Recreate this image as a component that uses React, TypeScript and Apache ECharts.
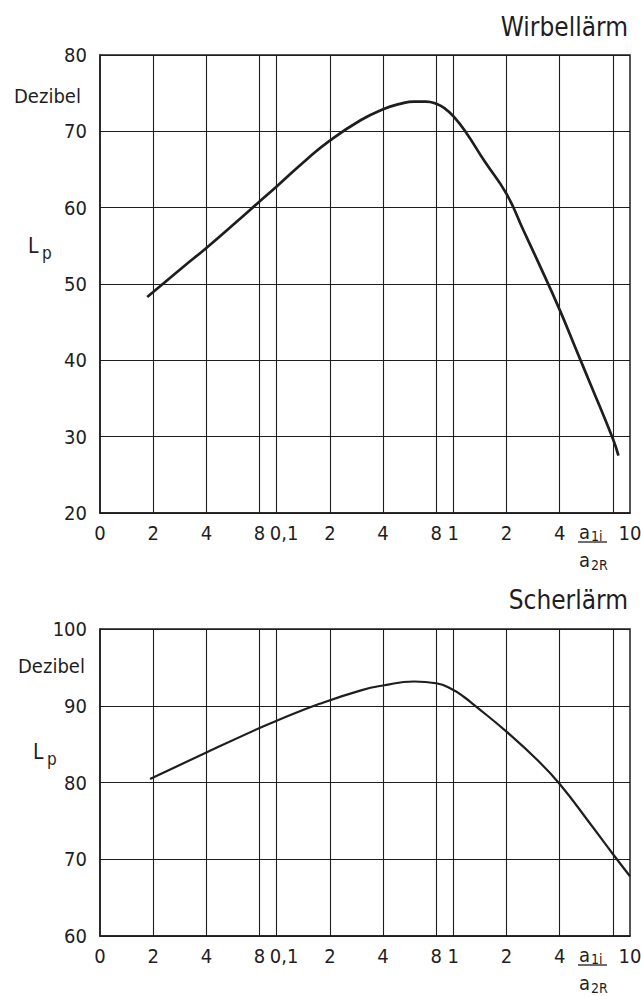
import React, { useEffect, useRef } from "react";
import * as echarts from "echarts";

// ---- data ----
const xGridValues = [0.02, 0.04, 0.08, 0.1, 0.2, 0.4, 0.8, 1, 2, 4, 8];
const xTickValues = [0.01, 0.02, 0.04, 0.08, 0.1, 0.2, 0.4, 0.8, 1, 2, 4, 10];
const xTickLabels = ["0", "2", "4", "8", "0,1", "2", "4", "8", "1", "2", "4", "10"];

const wirbelX = [0.0185, 0.02, 0.03, 0.04, 0.06, 0.08, 0.1, 0.15, 0.2, 0.3, 0.4, 0.5, 0.6, 0.7, 0.8, 0.9, 1, 1.17, 1.5, 2, 2.5, 3, 4, 5, 6, 8, 8.6];
const wirbelY = [48.3, 48.96, 52.36, 54.72, 58.25, 60.81, 62.78, 66.45, 68.79, 71.48, 72.9, 73.6, 73.9, 73.9, 73.6, 72.95, 72.0, 69.98, 66.1, 61.8, 56.97, 53.03, 46.61, 41.18, 36.78, 29.72, 27.52];

const scherX = [0.0192, 0.02, 0.04, 0.08, 0.1, 0.175, 0.3, 0.4, 0.6, 0.8, 1, 1.15, 1.32, 2, 3, 4, 6, 8, 10];
const scherY = [80.46, 80.65, 83.91, 87.1, 88.05, 90.25, 92.01, 92.64, 93.16, 92.93, 92.05, 91.14, 90.05, 86.62, 82.9, 79.8, 74.53, 70.68, 67.78];

const topYRange = [20, 80];
const bottomYRange = [60, 100];
const titles = ["Wirbellärm", "Scherlärm"];

const FONT = "'Liberation Sans Narrow', 'DejaVu Sans Condensed', 'Roboto Condensed', 'Noto Sans', sans-serif";
const INK = "#1e1e1e";

function labelFor(v: number): string {
  for (let i = 0; i < xTickValues.length; i++) {
    if (Math.abs(Math.log10(v) - Math.log10(xTickValues[i])) < 0.005) {
      const t = xTickLabels[i];
      return t === "0,1" ? "{s|0,1}" : t;
    }
  }
  return "";
}

function xAxisFor(gridIndex: number) {
  return {
    type: "log",
    logBase: 10,
    gridIndex,
    min: 0.01,
    max: 10,
    axisLine: { show: true, lineStyle: { color: INK, width: 1.5 } },
    axisTick: { show: false, customValues: xGridValues },
    splitLine: { show: true, lineStyle: { color: INK, width: 1.1 } },
    minorSplitLine: { show: false },
    axisLabel: {
      customValues: xTickValues,
      formatter: (v: number) => labelFor(v),
      color: INK,
      fontSize: 20,
      fontFamily: FONT,
      margin: 10,
      hideOverlap: false,
      rich: { s: { fontSize: 20, fontFamily: FONT, color: INK, padding: [0, 0, 0, 15] } },
    },
  };
}

function yAxisFor(gridIndex: number, range: number[]) {
  return {
    type: "value",
    gridIndex,
    min: range[0],
    max: range[1],
    interval: 10,
    axisLine: { show: true, lineStyle: { color: INK, width: 1.5 } },
    axisTick: { show: false },
    splitLine: { show: true, lineStyle: { color: INK, width: 1.1 } },
    axisLabel: { color: INK, fontSize: 20, fontFamily: FONT, margin: 13, padding: [6, 0, 0, 0] },
  };
}

function panelTexts(dy: number, titleY: number, title: string, dezY: number, lpY: number, lpX: number, dezX: number) {
  const t = (text: string, x: number, y: number, size: number, align = "left") => ({
    type: "text",
    x,
    y,
    style: { text, fontSize: size, fontFamily: FONT, fill: INK, align, verticalAlign: "middle" },
  });
  return [
    t(title, 628, titleY, 26, "right"),
    t("Dezibel", dezX, dezY, 20),
    t("L", lpX, lpY, 21),
    t("p", lpX + 14, lpY + 7, 17),
    t("a", 579, 532 + dy, 20),
    t("1i", 591, 536 + dy, 14),
    {
      type: "line",
      shape: { x1: 578, y1: 542 + dy, x2: 607, y2: 542 + dy },
      style: { stroke: INK, lineWidth: 1.3 },
    },
    t("a", 579, 560 + dy, 20),
    t("2R", 591, 565 + dy, 14),
  ];
}

export default function App() {
  const ref = useRef<HTMLDivElement>(null);
  useEffect(() => {
    if (!ref.current) return;
    const chart = echarts.init(ref.current, undefined, { renderer: "svg" });
    const option = {
      animation: false,
      backgroundColor: "#ffffff",
      grid: [
        { left: 100, top: 55, width: 530, height: 458, show: true, borderColor: INK, borderWidth: 1.5, outerBoundsMode: "none" },
        { left: 100, top: 629, width: 530, height: 307, show: true, borderColor: INK, borderWidth: 1.5, outerBoundsMode: "none" },
      ],
      xAxis: [xAxisFor(0), xAxisFor(1)],
      yAxis: [yAxisFor(0, topYRange), yAxisFor(1, bottomYRange)],
      series: [
        {
          type: "line",
          xAxisIndex: 0,
          yAxisIndex: 0,
          data: wirbelX.map((x, i) => [x, wirbelY[i]]),
          smooth: 0.5,
          showSymbol: false,
          lineStyle: { color: INK, width: 2.7 },
        },
        {
          type: "line",
          xAxisIndex: 1,
          yAxisIndex: 1,
          data: scherX.map((x, i) => [x, scherY[i]]),
          smooth: 0.5,
          showSymbol: false,
          lineStyle: { color: INK, width: 2.2 },
        },
      ],
      graphic: [
        ...panelTexts(0, 27, titles[0], 96, 246, 28, 14),
        ...panelTexts(423, 600, titles[1], 666, 752, 33, 18),
      ],
    };
    chart.setOption(option as any);
    return () => chart.dispose();
  }, []);
  return <div ref={ref} style={{ position: "absolute", left: 0, top: 0, width: 641, height: 996 }} />;
}
